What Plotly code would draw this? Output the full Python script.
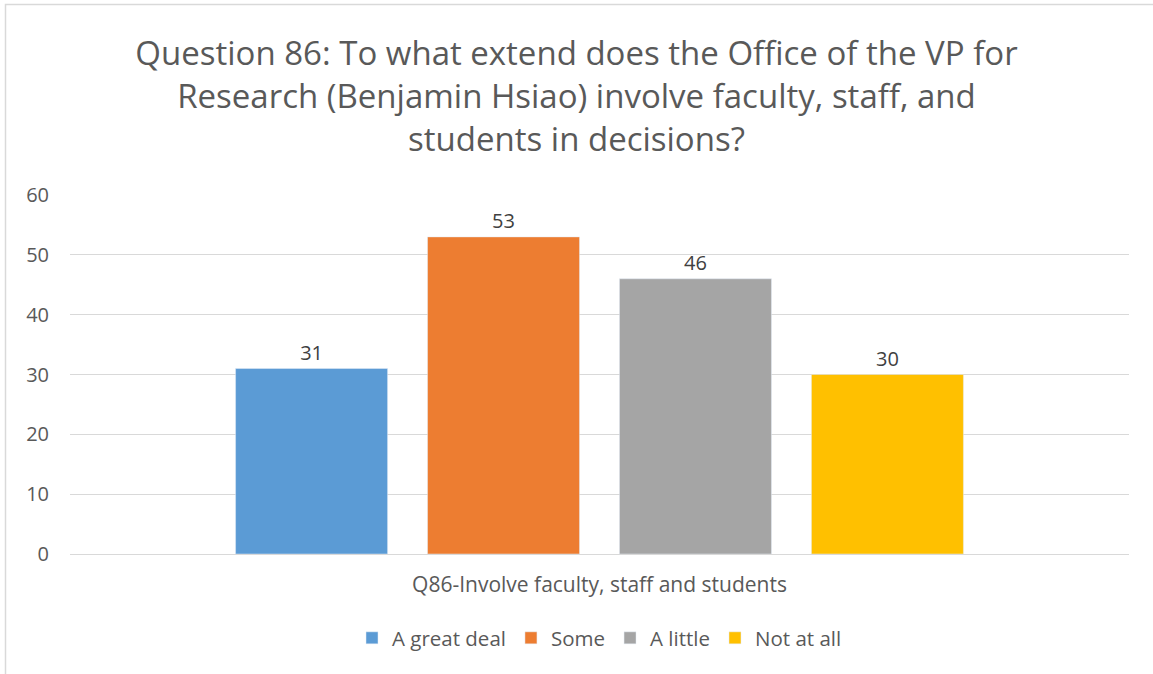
import plotly.graph_objects as go

category = ["Q86-Involve faculty, staff and students"]
series_names = ["A great deal", "Some", "A little", "Not at all"]
series_values = [31, 53, 46, 30]
colors = ["#5B9BD5", "#ED7D31", "#A5A5A5", "#FFC000"]
y_ticks = [0, 10, 20, 30, 40, 50, 60]

title_text = ("Question 86: To what extend does the Office of the VP for<br>"
              "Research (Benjamin Hsiao) involve faculty, staff, and<br>"
              "students in decisions?")

W, H = 1153, 674
L, R, T, B = 70, 1129, 195, 554

fig = go.Figure()
for name, val, col in zip(series_names, series_values, colors):
    fig.add_trace(go.Bar(
        x=category, y=[val], name=name, marker_color=col,
        text=[val], textposition="outside",
        textfont=dict(size=20, color="#404040"),
        cliponaxis=False,
    ))

def px_x(p):
    return (p - L) / (R - L)

def px_y(p):
    return (B - p) / (B - T)

fig.update_layout(
    width=W, height=H,
    margin=dict(l=L, r=W - R, t=T, b=H - B),
    paper_bgcolor="white", plot_bgcolor="white",
    font=dict(family="Open Sans", color="#595959"),
    title=dict(text=title_text, x=0.5, xanchor="center", y=1 - 65 / H, yanchor="middle",
               font=dict(size=33, color="#595959", family="Open Sans")),
    barmode="group", bargap=0.275, bargroupgap=0.208,
    showlegend=True,
    legend=dict(orientation="h", x=0.5, xanchor="center", y=px_y(638), yanchor="middle",
                font=dict(size=20.5, color="#595959"), traceorder="normal",
                itemwidth=30),
    xaxis=dict(showgrid=False, showline=False, ticks="",
               tickfont=dict(size=21, color="#595959"), ticklabelstandoff=16),
    yaxis=dict(range=[0, 60], tickvals=y_ticks, showgrid=True, gridcolor="#D9D9D9",
               gridwidth=1, zeroline=True, zerolinecolor="#D9D9D9", zerolinewidth=1,
               tickfont=dict(size=20, color="#595959"), ticks="", ticklabelstandoff=20),
    shapes=[dict(type="rect", xref="paper", yref="paper",
                 x0=px_x(5.5), x1=px_x(1160), y0=px_y(4.5), y1=px_y(700),
                 line=dict(color="#D9D9D9", width=1.5), fillcolor="rgba(0,0,0,0)",
                 layer="below")],
)

fig.write_html("out.html", config={"displayModeBar": False},
               post_script="document.body.style.margin='0';document.body.style.padding='0';")
